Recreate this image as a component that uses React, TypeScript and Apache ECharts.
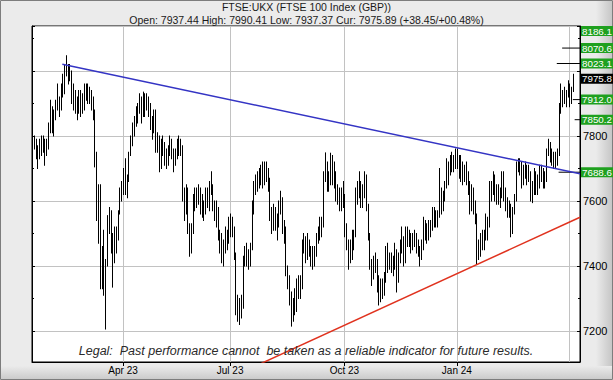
import React, { useEffect, useRef } from "react";
import * as echarts from "echarts";

// ---- calendar -------------------------------------------------------------
const START_DATE = "2023-01-20";
const UK_HOLIDAYS = [
  "2023-04-07", "2023-04-10", "2023-05-01", "2023-05-08", "2023-05-29",
  "2023-08-28", "2023-12-25", "2023-12-26", "2024-01-01", "2024-03-29", "2024-04-01",
];
const EMPTY_SLOTS = 4;

// quarter starts (first trading day) -> label ("" = grid line only)
const QUARTER_LABELS: Record<string, string> = {
  "2023-04-03": "Apr 23",
  "2023-07-03": "Jul 23",
  "2023-10-02": "Oct 23",
  "2024-01-02": "Jan 24",
  "2024-04-02": "",
};

// ---- daily lows / highs (FTSE 100) ----------------------------------------
const lows = [
  7740, 7760, 7730, 7700, 7730, 7740, 7750, 7710, 7740, 7760,
  7810, 7810, 7800, 7850, 7880, 7860, 7880, 7920, 7930, 7985,
  7960, 7970, 7900, 7880, 7870, 7850, 7870, 7860, 7870, 7880,
  7910, 7900, 7900, 7880, 7850, 7705, 7540, 7470, 7330, 7330,
  7310, 7206, 7400, 7500, 7440, 7335, 7410, 7440, 7480, 7560,
  7600, 7620, 7620, 7610, 7660, 7740, 7770, 7800, 7830, 7840,
  7870, 7840, 7860, 7860, 7880, 7860, 7820, 7790, 7810, 7750,
  7750, 7690, 7700, 7740, 7710, 7700, 7710, 7740, 7730, 7690,
  7710, 7730, 7740, 7740, 7600, 7540, 7560, 7500, 7430, 7440,
  7500, 7570, 7580, 7590, 7560, 7550, 7540, 7560, 7580, 7570,
  7620, 7570, 7540, 7520, 7480, 7440, 7410, 7400, 7440, 7450,
  7470, 7490, 7490, 7420, 7250, 7230, 7220, 7240, 7270, 7400,
  7400, 7390, 7400, 7450, 7560, 7620, 7630, 7640, 7650, 7640,
  7650, 7660, 7630, 7540, 7500, 7510, 7510, 7480, 7520, 7560,
  7500, 7470, 7370, 7330, 7280, 7215, 7230, 7250, 7260, 7300,
  7300, 7330, 7440, 7410, 7420, 7430, 7400, 7390, 7400, 7430,
  7470, 7480, 7490, 7520, 7660, 7630, 7630, 7650, 7650, 7640,
  7600, 7590, 7570, 7570, 7580, 7490, 7450, 7390, 7410, 7420,
  7450, 7490, 7590, 7610, 7580, 7580, 7610, 7570, 7480, 7390,
  7340, 7360, 7380, 7320, 7280, 7290, 7300, 7310, 7350, 7380,
  7390, 7380, 7370, 7390, 7320, 7350, 7410, 7440, 7400, 7410,
  7460, 7460, 7440, 7450, 7460, 7440, 7430, 7400, 7420, 7450,
  7480, 7470, 7480, 7490, 7510, 7520, 7520, 7520, 7550, 7560,
  7570, 7600, 7640, 7650, 7680, 7690, 7690, 7700, 7700, 7670,
  7660, 7650, 7660, 7650, 7620, 7560, 7570, 7560, 7530, 7405,
  7420, 7430, 7450, 7450, 7480, 7480, 7520, 7600, 7620, 7600,
  7590, 7590, 7580, 7610, 7600, 7570, 7550, 7550, 7490, 7500,
  7560, 7600, 7690, 7680, 7640, 7650, 7670, 7650, 7660, 7600,
  7595, 7620, 7620, 7620, 7640, 7660, 7640, 7640, 7660, 7740,
  7720, 7710, 7700, 7700, 7710, 7740, 7870, 7890, 7900, 7890,
  7920, 7890, 7900, 7937,
];
const highs = [
  7800, 7800, 7790, 7770, 7790, 7800, 7800, 7790, 7790, 7840,
  7910, 7890, 7880, 7910, 7960, 7920, 7960, 7990, 8020, 8047,
  8020, 8020, 8000, 7960, 7940, 7920, 7940, 7940, 7930, 7960,
  7960, 7960, 7950, 7940, 7920, 7880, 7750, 7650, 7650, 7460,
  7510, 7420, 7555, 7580, 7570, 7500, 7520, 7520, 7570, 7640,
  7660, 7700, 7730, 7680, 7750, 7800, 7840, 7860, 7890, 7900,
  7930, 7920, 7935, 7930, 7930, 7920, 7900, 7860, 7880, 7880,
  7810, 7800, 7790, 7800, 7780, 7760, 7770, 7800, 7790, 7760,
  7760, 7790, 7800, 7790, 7770, 7640, 7650, 7640, 7530, 7530,
  7620, 7640, 7640, 7650, 7640, 7620, 7600, 7640, 7640, 7660,
  7690, 7650, 7600, 7600, 7580, 7510, 7500, 7480, 7520, 7510,
  7550, 7560, 7550, 7520, 7440, 7310, 7300, 7310, 7430, 7460,
  7470, 7450, 7470, 7600, 7660, 7680, 7690, 7700, 7710, 7720,
  7720, 7720, 7700, 7670, 7580, 7590, 7580, 7560, 7600, 7630,
  7610, 7540, 7520, 7400, 7370, 7320, 7300, 7330, 7360, 7370,
  7370, 7480, 7500, 7490, 7500, 7480, 7460, 7460, 7460, 7500,
  7520, 7550, 7550, 7690, 7748, 7720, 7690, 7747, 7740, 7720,
  7690, 7650, 7640, 7640, 7660, 7620, 7530, 7480, 7480, 7510,
  7510, 7640, 7660, 7690, 7660, 7650, 7690, 7680, 7590, 7500,
  7420, 7430, 7440, 7420, 7370, 7360, 7360, 7380, 7460, 7470,
  7440, 7440, 7430, 7470, 7450, 7440, 7480, 7520, 7490, 7520,
  7520, 7510, 7500, 7500, 7510, 7500, 7480, 7460, 7480, 7550,
  7540, 7530, 7540, 7540, 7580, 7580, 7570, 7570, 7700, 7640,
  7630, 7660, 7730, 7720, 7740, 7750, 7740, 7760, 7760, 7740,
  7740, 7720, 7710, 7720, 7690, 7660, 7650, 7640, 7600, 7560,
  7480, 7500, 7510, 7510, 7560, 7550, 7660, 7660, 7690, 7680,
  7650, 7650, 7640, 7690, 7690, 7640, 7610, 7600, 7590, 7580,
  7620, 7720, 7730, 7730, 7720, 7710, 7720, 7710, 7710, 7690,
  7660, 7700, 7690, 7680, 7710, 7710, 7700, 7690, 7760, 7790,
  7780, 7760, 7750, 7750, 7760, 7900, 7960, 7940, 7950, 7940,
  7970, 7960, 7950, 7990,
];

// trend lines: [categoryIndex, value]
const blueTrend = [[17, 8021], [307, 7684]];
const redTrend = [[120, 7079], [307, 7550]];

// target levels: value, label text, from index, background
const levelValues = [8186.1, 8070.6, 8023.1, 7975.89, 7912.0, 7850.2, 7688.6];
const levelTexts = ["8186.1", "8070.6", "8023.1", "7975.8", "7912.0", "7850.2", "7688.6"];
const levelFrom = [null, 297, 294, 0, 303, 304, 295];
const levelColors = ["#1fa01f", "#1fa01f", "#1fa01f", "#000000", "#1fa01f", "#1fa01f", "#1fa01f"];

const TITLE = "FTSE:UKX (FTSE 100 Index (GBP))";
const SUBTITLE = "Open: 7937.44 High: 7990.41 Low: 7937.37 Cur: 7975.89 (+38.45/+00.48%)";
const LEGAL = "Legal:  Past performance cannot  be taken as a reliable indicator for future results.";
const Y_LABELS = [7200, 7400, 7600, 7800];

const FONT = '"Liberation Sans", Arial, sans-serif';

function tradingDays(start: string, count: number, holidays: string[]): string[] {
  const out: string[] = [];
  const d = new Date(start + "T00:00:00Z");
  while (out.length < count) {
    const dow = d.getUTCDay();
    const s = d.toISOString().slice(0, 10);
    if (dow !== 0 && dow !== 6 && holidays.indexOf(s) < 0) out.push(s);
    d.setUTCDate(d.getUTCDate() + 1);
  }
  return out;
}

export default function App() {
  const ref = useRef<HTMLDivElement>(null);

  useEffect(() => {
    document.body.style.margin = "0";
    const W = 613, H = 380;
    const gridLeft = 32, gridTop = 26, gridRight = 580, gridBottom = 362;
    const dates = tradingDays(START_DATE, highs.length + EMPTY_SLOTS, UK_HOLIDAYS);
    const nCat = dates.length;
    const isQuarter = (i: number) => dates[i] in QUARTER_LABELS;
    const hasLabel = (i: number) => !!QUARTER_LABELS[dates[i]];

    const ohlc = highs.map((h, i) => [i, lows[i], h]);

    const yMin = 7104.6, yMax = 8138.5;

    const levelSeries: any[] = [];
    levelValues.forEach((v, k) => {
      const from = levelFrom[k];
      if (from === null || levelColors[k] === "#000000") return;
      levelSeries.push({
        type: "line",
        data: [[from, v], [nCat - 1, v]],
        symbol: "none",
        silent: true,
        z: 4,
        lineStyle: { color: "#000", width: 1 },
      });
    });

    const baseGraphics: any[] = [
      {
        id: "bg", type: "rect", z: -100, silent: true,
        shape: { x: 0.5, y: 0.5, width: W - 1, height: H - 1 },
        style: { fill: "#ebebeb", stroke: "#7d7d7d", lineWidth: 1 },
      },
      {
        id: "bgRight", type: "rect", z: -99, silent: true,
        shape: { x: 596, y: 1, width: 16, height: H - 2 },
        style: {
          fill: new echarts.graphic.LinearGradient(0, 0, 1, 0, [
            { offset: 0, color: "#ebebeb" },
            { offset: 1, color: "#c6c6c6" },
          ]),
        },
      },
      {
        id: "bgBottom", type: "rect", z: -99, silent: true,
        shape: { x: 1, y: 366, width: W - 2, height: 13 },
        style: {
          fill: new echarts.graphic.LinearGradient(0, 0, 0, 1, [
            { offset: 0, color: "#ebebeb" },
            { offset: 1, color: "#cbcbcb" },
          ]),
        },
      },
      {
        id: "title", type: "text", z: 100, silent: true,
        style: {
          x: W / 2, y: 7, text: TITLE, align: "center", verticalAlign: "middle",
          fontSize: 10.5, fontFamily: FONT, fill: "#1a1a1a",
        },
      },
      {
        id: "subtitle", type: "text", z: 100, silent: true,
        style: {
          x: W / 2, y: 20, text: SUBTITLE, align: "center", verticalAlign: "middle",
          fontSize: 10.5, fontFamily: FONT, fill: "#1a1a1a",
        },
      },
      {
        id: "legal", type: "text", z: 100, silent: true,
        style: {
          x: 306, y: 351, text: LEGAL, align: "center", verticalAlign: "middle",
          fontSize: 12.5, fontStyle: "italic", fontFamily: FONT, fill: "#2a2a2a",
        },
      },
    ];

    const chart = echarts.init(ref.current!, null, { renderer: "svg" });
    chart.setOption({
      animation: false,
      backgroundColor: "transparent",
      textStyle: { fontFamily: FONT },
      grid: {
        left: gridLeft, top: gridTop,
        width: gridRight - gridLeft, height: gridBottom - gridTop,
        show: true, backgroundColor: "#ffffff", borderColor: "#000", borderWidth: 1,
        containLabel: false,
      },
      xAxis: {
        type: "category",
        data: dates,
        boundaryGap: false,
        axisLine: { show: true, lineStyle: { color: "#000", width: 1 } },
        axisTick: {
          show: true, length: 4, interval: (i: number) => hasLabel(i),
          lineStyle: { color: "#000" },
        },
        axisLabel: {
          show: true, interval: (i: number) => hasLabel(i),
          formatter: (v: string) => QUARTER_LABELS[v] || "",
          fontSize: 10, color: "#000", margin: 3, fontFamily: FONT,
        },
        splitLine: {
          show: true, interval: (i: number) => isQuarter(i),
          lineStyle: { color: "#c2c2c2", width: 1 },
        },
      },
      yAxis: [
        {
          type: "value", position: "right", min: yMin, max: yMax,
          splitNumber: 5, minInterval: 200, maxInterval: 200,
          axisLine: { show: true, lineStyle: { color: "#000" } },
          axisTick: { show: true, inside: true, length: 3, lineStyle: { color: "#000" } },
          minorTick: { show: true, splitNumber: 2, length: 2, lineStyle: { color: "#000" } },
          splitLine: { show: true, lineStyle: { color: "#c2c2c2", width: 1 } },
          axisLabel: {
            show: true, showMinLabel: false, showMaxLabel: false,
            formatter: (v: number) => (Y_LABELS.indexOf(Math.round(v)) >= 0 ? String(Math.round(v)) : ""),
            fontSize: 11, color: "#000", margin: 3, fontFamily: FONT,
          },
        },
        {
          type: "value", position: "left", min: yMin, max: yMax,
          splitNumber: 5, minInterval: 200, maxInterval: 200,
          axisLine: { show: true, lineStyle: { color: "#000" } },
          axisTick: { show: true, inside: true, length: 3, lineStyle: { color: "#000" } },
          minorTick: { show: true, splitNumber: 2, length: 2, lineStyle: { color: "#000" } },
          splitLine: { show: false },
          axisLabel: { show: false },
        },
      ],
      series: [
        {
          type: "custom",
          silent: true,
          clip: true,
          z: 2,
          data: ohlc,
          encode: { x: 0, y: [1, 2] },
          renderItem: (params: any, api: any) => {
            const lo = api.coord([api.value(0), api.value(1)]);
            const hi = api.coord([api.value(0), api.value(2)]);
            const x = Math.round(lo[0]) + 0.5;
            return {
              type: "line",
              shape: { x1: x, y1: lo[1] + 0.5, x2: x, y2: hi[1] - 0.5 },
              style: { stroke: "#000", lineWidth: 1 },
            };
          },
        },
        {
          type: "line", data: blueTrend, symbol: "none", silent: true, z: 5,
          lineStyle: { color: "#3434c4", width: 1.5 },
        },
        {
          type: "line", data: redTrend, symbol: "none", silent: true, z: 5, clip: true,
          lineStyle: { color: "#e0321e", width: 1.5 },
        },
        ...levelSeries,
      ],
      graphic: baseGraphics,
    });

    // right-hand level labels, positioned through the y axis scale
    const labelGraphics: any[] = [];
    levelValues.forEach((v, k) => {
      let py = chart.convertToPixel({ yAxisIndex: 0 }, v) as number;
      if (py < gridTop + 5) py = gridTop + 5;
      labelGraphics.push({
        id: "lvl" + k, type: "group", z: 120, silent: true,
        children: [
          {
            type: "rect",
            shape: { x: gridRight + 1, y: py - 5, width: 33, height: 10 },
            style: { fill: levelColors[k] },
          },
          {
            type: "text",
            style: {
              x: gridRight + 2, y: py, text: levelTexts[k], verticalAlign: "middle",
              fontSize: 9.8, fontFamily: FONT, fill: "#ffffff",
            },
          },
        ],
      });
    });
    chart.setOption({ graphic: [...baseGraphics, ...labelGraphics] });

    return () => chart.dispose();
  }, []);

  return <div ref={ref} style={{ width: 613, height: 380 }} />;
}
